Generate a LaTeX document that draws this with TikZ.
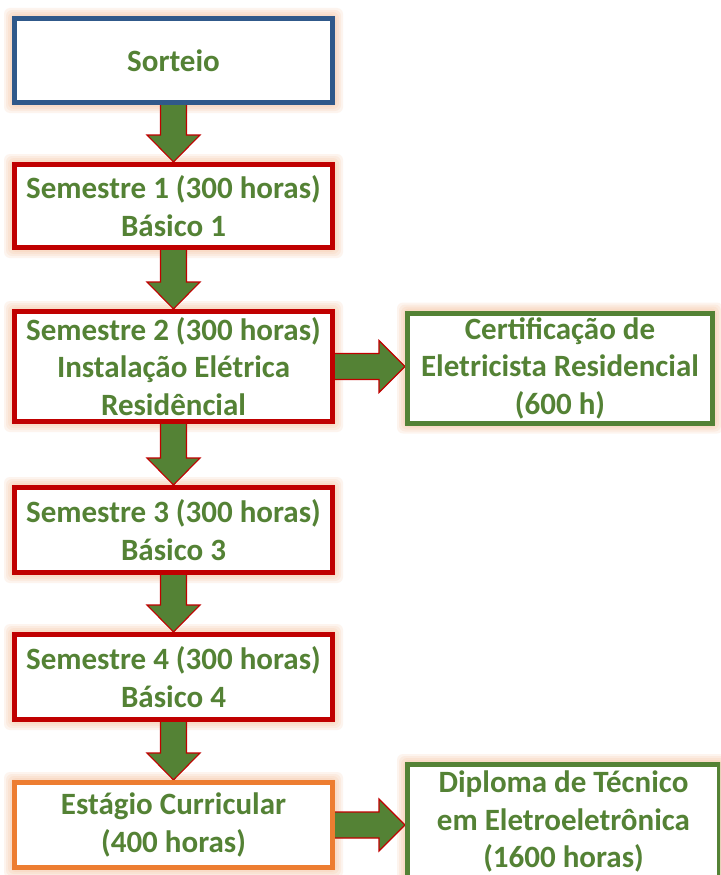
\documentclass[tikz,border=0pt]{standalone}
\usepackage{fontspec}
\setmainfont{Carlito}
\usetikzlibrary{calc}
\definecolor{tgreen}{HTML}{548235}
\definecolor{bred}{HTML}{C00000}
\definecolor{bblue}{HTML}{30598A}
\definecolor{borange}{HTML}{ED7D31}
\definecolor{glowc}{HTML}{F4B183}
\pgfdeclarelayer{bg}
\pgfdeclarelayer{glow}
\pgfdeclarelayer{arrows}
\pgfsetlayers{bg,glow,arrows,main}
\tikzset{
  box/.style={draw, line width=5pt, fill=white, text=tgreen, font=\fontsize{31}{37.5}\selectfont\bfseries,
    align=center, inner sep=0pt, minimum width=318pt},
  bigarrow/.style={fill=tgreen, draw=bred, line width=1.1pt, line join=miter},
  glowfill/.style={fill=glowc, opacity=0.13, rounded corners=6pt}
}
\newcommand{\vfatarrow}[2]{%
  \begin{pgfonlayer}{arrows}
  \draw[bigarrow] let \p1=(#1.south), \p2=(#2.north) in
    (\x1-13pt,\y1+3pt) -- (\x1-13pt,\y2+27pt) -- (\x1-26.5pt,\y2+27pt) -- (\x1,\y2) --
    (\x1+26.5pt,\y2+27pt) -- (\x1+13pt,\y2+27pt) -- (\x1+13pt,\y1+3pt) -- cycle;
  \end{pgfonlayer}}
\newcommand{\hfatarrow}[2]{%
  \begin{pgfonlayer}{arrows}
  \draw[bigarrow] let \p1=(#1.east), \p2=(#2.west) in
    (\x1-3pt,\y1+13pt) -- (\x2-26pt,\y1+13pt) -- (\x2-26pt,\y1+26pt) -- (\x2,\y1) --
    (\x2-26pt,\y1-26pt) -- (\x2-26pt,\y1-13pt) -- (\x1-3pt,\y1-13pt) -- cycle;
  \end{pgfonlayer}}
\newcommand{\glowbox}[1]{%
  \begin{pgfonlayer}{glow}
  \foreach \k in {2,4,6,8}{
    \fill[glowfill] ([shift={(-\k pt,\k pt)}]#1.north west) rectangle ([shift={(\k pt,-\k pt)}]#1.south east);
  }
  \end{pgfonlayer}}
\begin{document}
\begin{tikzpicture}[x=1pt,y=-1pt]
\useasboundingbox (0,0) rectangle (720,875);
\clip (0,0) rectangle (720,875);
\begin{pgfonlayer}{bg}
\fill[white] (0,0) rectangle (720,875);
\end{pgfonlayer}
\node[box, draw=bblue, minimum height=84pt] (sort) at (173.5,60.5) {Sorteio};
\node[box, draw=bred, minimum height=83pt] (s1) at (173.5,206) {Semestre 1 (300 horas)\\Básico 1};
\node[box, draw=bred, minimum height=110pt] (s2) at (173.5,366.5) {Semestre 2 (300 horas)\\Instalação Elétrica\\Residêncial};
\node[box, draw=bred, minimum height=85pt] (s3) at (173.5,530) {Semestre 3 (300 horas)\\Básico 3};
\node[box, draw=bred, minimum height=85pt] (s4) at (173.5,677) {Semestre 4 (300 horas)\\Básico 4};
\node[box, draw=borange, minimum height=85pt] (est) at (173.5,825) {Estágio Curricular\\(400 horas)};
\node[box, draw=tgreen, minimum width=305pt, minimum height=110pt] (cert) at (560,368) {Certificação de\\Eletricista Residencial\\(600 h)};
\node[box, draw=tgreen, minimum width=312pt, minimum height=114pt] (dip) at (563.5,821.5) {Diploma de Técnico\\em Eletroeletrônica\\(1600 horas)};
\foreach \n in {sort,s1,s2,s3,s4,est,cert,dip}{\glowbox{\n}}
\vfatarrow{sort}{s1}
\vfatarrow{s1}{s2}
\vfatarrow{s2}{s3}
\vfatarrow{s3}{s4}
\vfatarrow{s4}{est}
\hfatarrow{s2}{cert}
\hfatarrow{est}{dip}
\end{tikzpicture}
\end{document}
